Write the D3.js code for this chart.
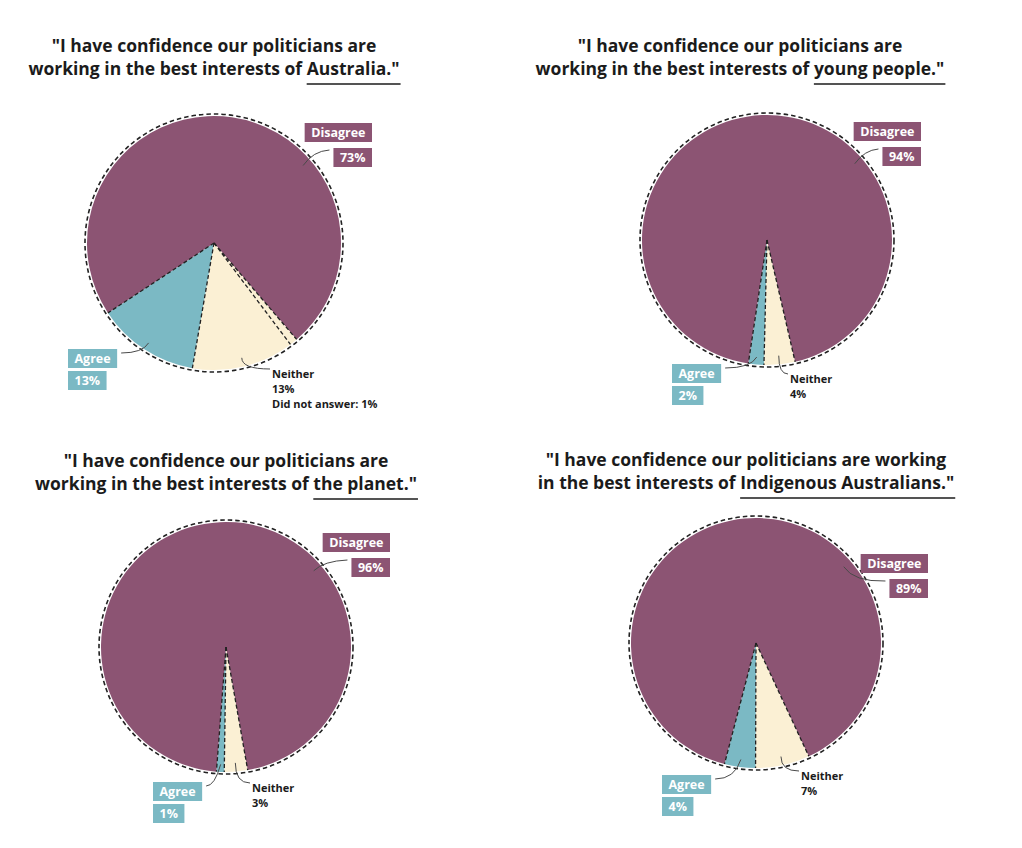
<!DOCTYPE html>
<html>
<head>
<meta charset="utf-8">
<script src="https://cdn.jsdelivr.net/npm/d3@7"></script>
<style>
  body { margin: 0; background: #fff; }
  svg { display: block; }
  .title { font-family: "Open Sans", "Noto Sans", sans-serif; font-weight: 700; font-size: 17.5px; fill: #1b1b1b; }
  .boxText { font-family: "Open Sans", "Noto Sans", sans-serif; font-weight: 700; font-size: 12.5px; fill: #fff; }
  .plainLabel { font-family: "Open Sans", "Noto Sans", sans-serif; font-weight: 700; font-size: 11px; fill: #1b1b1b; }
</style>
</head>
<body>
<div id="chart"></div>
<script>
// answer categories, same order for every question
var categories = ["Neither", "Agree", "Disagree", "Did not answer"];

// percentages per question (Neither, Agree, Disagree, Did not answer)
var australiaValues  = [13, 13, 73, 1];
var youngPeopleValues = [4, 2, 94, 0];
var planetValues     = [3, 1, 96, 0];
var indigenousValues = [7, 4, 89, 0];

// title text, second line is split so the last words can be underlined
var titleLine1 = [
    "\"I have confidence our politicians are",
    "\"I have confidence our politicians are",
    "\"I have confidence our politicians are",
    "\"I have confidence our politicians are working"
];
var titleLine2Plain = [
    "working in the best interests of ",
    "working in the best interests of ",
    "working in the best interests of ",
    "in the best interests of "
];
var titleLine2Underlined = [
    "Australia.\"",
    "young people.\"",
    "the planet.\"",
    "Indigenous Australians.\""
];

var colors = { "Neither": "#fbf0d4", "Agree": "#7bb9c4", "Disagree": "#8c5473", "Did not answer": "#fbf0d4" };

var width = 1022, height = 848;

var svg = d3.select("#chart")
    .append("svg")
    .attr("width", width)
    .attr("height", height);

// layout for each of the four panels (centre, radius, start angle in degrees, label offsets)
var panels = [
    { values: australiaValues,   cx: 214, cy: 243, r: 127, start: 143, tx: 214, ty: 52,
      dis: [158, -120], agr: [-146, 106], nei: [58, 135] },
    { values: youngPeopleValues, cx: 767, cy: 240, r: 125, start: 167, tx: 740, ty: 52,
      dis: [154, -118], agr: [-95, 124], nei: [23, 143] },
    { values: planetValues,      cx: 226, cy: 647, r: 125, start: 170, tx: 226, ty: 467,
      dis: [164, -114], agr: [-73, 135], nei: [26, 145] },
    { values: indigenousValues,  cx: 756, cy: 643, r: 125, start: 155, tx: 746, ty: 466,
      dis: [172, -89], agr: [-94, 132], nei: [45, 137] }
];

function polar(r, a) {
    return [r * Math.sin(a), -r * Math.cos(a)];
}

function drawTitle(g, i, p) {
    g.append("text")
        .attr("class", "title")
        .attr("x", p.tx)
        .attr("y", p.ty)
        .attr("text-anchor", "middle")
        .text(titleLine1[i]);

    var t2 = g.append("text")
        .attr("class", "title")
        .attr("x", p.tx)
        .attr("y", p.ty + 23)
        .attr("text-anchor", "middle")
        .text(titleLine2Plain[i] + titleLine2Underlined[i]);

    // underline the last words, run it to the end of the closing quote
    var node = t2.node();
    var pre = titleLine2Plain[i].length;
    var x0 = node.getStartPositionOfChar(pre).x;
    var x1 = node.getEndPositionOfChar(node.getNumberOfChars() - 1).x;
    g.append("line")
        .attr("x1", x0).attr("x2", x1 + 1)
        .attr("y1", p.ty + 32).attr("y2", p.ty + 32)
        .attr("stroke", "#1b1b1b")
        .attr("stroke-width", 1.6);
}

function labelBox(g, text, x, y, alignRight) {
    var t = g.append("text")
        .attr("class", "boxText")
        .attr("y", y + 14)
        .text(text);
    var w = t.node().getComputedTextLength() + 13;
    var bx = alignRight ? x - w : x;
    g.insert("rect", "text")
        .attr("x", bx).attr("y", y)
        .attr("width", w).attr("height", 19);
    t.attr("x", bx + 6.5);
    return { x: bx, w: w };
}

function leader(g, from, to, ctrl) {
    g.append("path")
        .attr("d", "M" + from[0] + "," + from[1] + "Q" + ctrl[0] + "," + ctrl[1] + " " + to[0] + "," + to[1])
        .attr("fill", "none")
        .attr("stroke", "#4a4a4a")
        .attr("stroke-width", 1);
}

function buildPanel(p, i) {
    var gTitle = svg.append("g");
    drawTitle(gTitle, i, p);

    var g = svg.append("g")
        .attr("transform", "translate(" + p.cx + "," + p.cy + ")");

    var a0 = p.start * Math.PI / 180;
    var pie = d3.pie()
        .sort(null)
        .value(function (d) { return d.value; })
        .startAngle(a0)
        .endAngle(a0 + 2 * Math.PI);

    var data = categories.map(function (c, k) { return { key: c, value: p.values[k] }; });
    var arcs = pie(data);

    var arc = d3.arc().innerRadius(0).outerRadius(p.r);

    g.selectAll(".slice")
        .data(arcs.filter(function (d) { return d.data.value > 0; }))
        .enter()
        .append("path")
        .attr("class", "slice")
        .attr("d", arc)
        .attr("fill", function (d) { return colors[d.data.key]; });

    // dashed edges between slices
    g.selectAll(".edge")
        .data(arcs.filter(function (d) { return d.data.value > 0; }))
        .enter()
        .append("line")
        .attr("class", "edge")
        .attr("x1", 0).attr("y1", 0)
        .attr("x2", function (d) { return polar(p.r, d.startAngle)[0]; })
        .attr("y2", function (d) { return polar(p.r, d.startAngle)[1]; })
        .attr("stroke", "#222")
        .attr("stroke-width", 1.3)
        .attr("stroke-dasharray", "4,2.5");

    // dashed outline just outside the pie
    g.append("circle")
        .attr("r", p.r + 2)
        .attr("fill", "none")
        .attr("stroke", "#222")
        .attr("stroke-width", 1.6)
        .attr("stroke-dasharray", "4.5,3");

    var byKey = {};
    arcs.forEach(function (d) { byKey[d.data.key] = d; });

    // Disagree label, boxes right aligned
    var gd = svg.append("g").attr("fill", colors["Disagree"]);
    var dx = p.cx + p.dis[0], dy = p.cy + p.dis[1];
    labelBox(gd, "Disagree", dx, dy, true);
    var pb = labelBox(gd, p.values[2] + "%", dx, dy + 25, true);
    var dIn = polar(p.r * 0.93, 49 * Math.PI / 180);
    var dFrom = [pb.x - 4, dy + 27];
    var dTo = [p.cx + dIn[0], p.cy + dIn[1]];
    leader(svg, dFrom, dTo, [dTo[0] + 10, dFrom[1] + 1]);

    // Agree label, boxes left aligned
    var ga = svg.append("g").attr("fill", colors["Agree"]);
    var ax = p.cx + p.agr[0], ay = p.cy + p.agr[1];
    var ab = labelBox(ga, "Agree", ax, ay, false);
    labelBox(ga, p.values[1] + "%", ax, ay + 22, false);
    var ag = byKey["Agree"];
    var aIn = polar(p.r * 0.94, (ag.startAngle + ag.endAngle) / 2);
    var aFrom = [ab.x + ab.w + 4, ay + 4];
    var aTo = [p.cx + aIn[0], p.cy + aIn[1]];
    leader(svg, aFrom, aTo, [aTo[0] - 6, aFrom[1]]);

    // Neither label, plain text
    var ne = byKey["Neither"];
    var nx = p.cx + p.nei[0], ny = p.cy + p.nei[1];
    var lines = ["Neither", p.values[0] + "%"];
    if (p.values[3] > 0) lines.push("Did not answer: " + p.values[3] + "%");
    lines.forEach(function (s, k) {
        svg.append("text")
            .attr("class", "plainLabel")
            .attr("x", nx)
            .attr("y", ny + k * 15)
            .text(s);
    });
    var nIn = polar(p.r * 0.93, (ne.startAngle + ne.endAngle) / 2);
    var nFrom = [p.cx + nIn[0], p.cy + nIn[1]];
    var nTo = [nx - 2, ny - 9];
    leader(svg, nFrom, nTo, [nFrom[0], nTo[1]]);
}

panels.forEach(buildPanel);
</script>
</body>
</html>
